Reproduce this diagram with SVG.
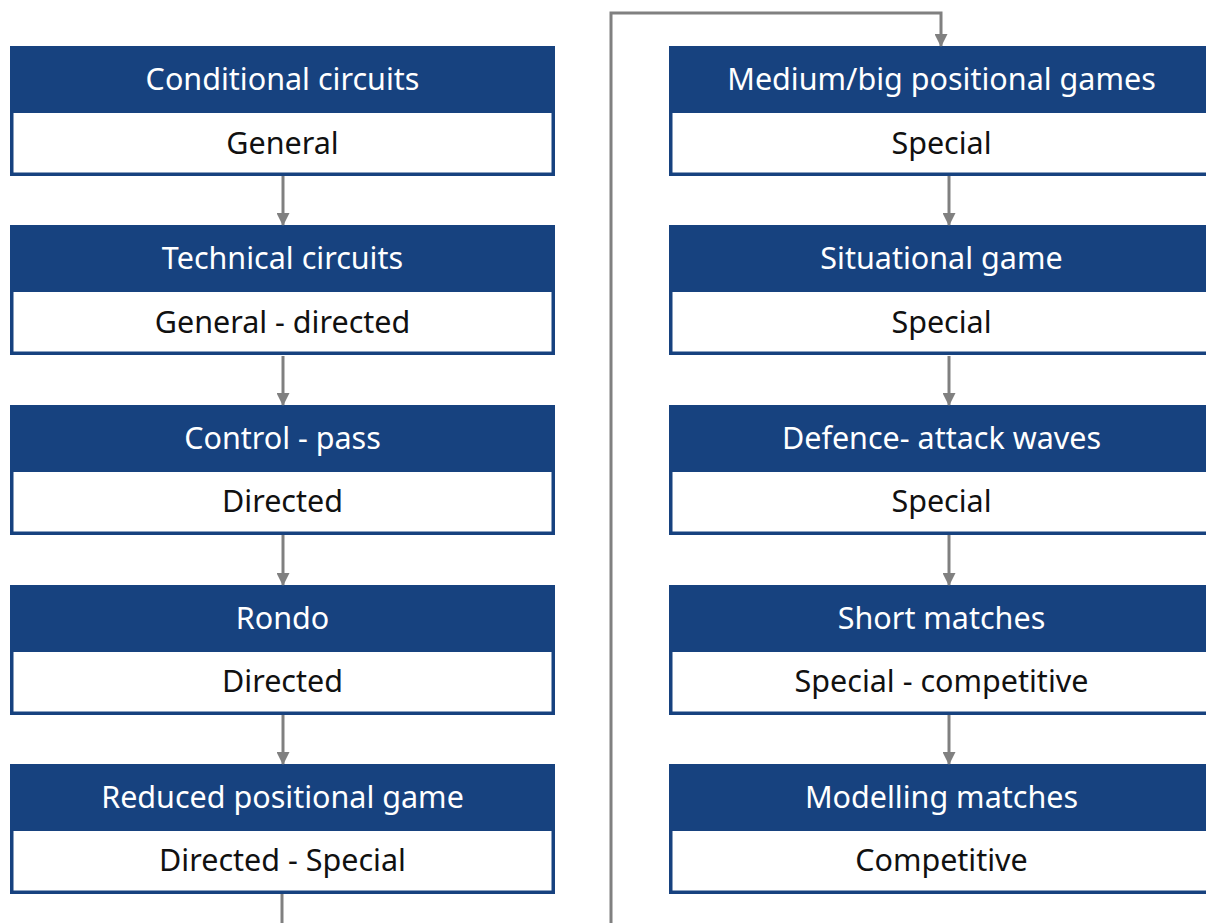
<svg xmlns="http://www.w3.org/2000/svg" width="1206" height="923" viewBox="0 0 1206 923">
  <defs>
    <marker id="head" markerWidth="13" markerHeight="13" refX="12" refY="6.5" orient="auto" markerUnits="userSpaceOnUse">
      <path d="M0,0 L13,6.5 L0,13 Z" fill="#808080"/>
    </marker>
  </defs>
  <style>
    .hdr { fill: #17427f; }
    .body { fill: #ffffff; stroke: #17427f; stroke-width: 3.5; }
    .t { font-family: "Noto Sans", "Open Sans", sans-serif; font-size: 30.5px; text-anchor: middle; }
    .tw { fill: #ffffff; }
    .tb { fill: #111111; }
    .link { fill: none; stroke: #808080; stroke-width: 3; marker-end: url(#head); }
    .plain { fill: none; stroke: #808080; stroke-width: 3; }
  </style>
  <rect width="1206" height="923" fill="#ffffff"/>

  <!-- left column -->
  <g id="n-conditional">
    <rect class="body" x="11.75" y="111" width="541.5" height="63.25"/>
    <rect class="hdr" x="10" y="46" width="545" height="67"/>
    <text class="t tw" x="282.5" y="90">Conditional circuits</text>
    <text class="t tb" x="282.5" y="154">General</text>
  </g>
  <g id="n-technical">
    <rect class="body" x="11.75" y="290" width="541.5" height="63.25"/>
    <rect class="hdr" x="10" y="225" width="545" height="67"/>
    <text class="t tw" x="282.5" y="269">Technical circuits</text>
    <text class="t tb" x="282.5" y="333">General - directed</text>
  </g>
  <g id="n-control">
    <rect class="body" x="11.75" y="470" width="541.5" height="63.25"/>
    <rect class="hdr" x="10" y="405" width="545" height="67"/>
    <text class="t tw" x="282.5" y="449">Control - pass</text>
    <text class="t tb" x="282.5" y="512">Directed</text>
  </g>
  <g id="n-rondo">
    <rect class="body" x="11.75" y="650" width="541.5" height="63.25"/>
    <rect class="hdr" x="10" y="585" width="545" height="67"/>
    <text class="t tw" x="282.5" y="629">Rondo</text>
    <text class="t tb" x="282.5" y="692">Directed</text>
  </g>
  <g id="n-reduced">
    <rect class="body" x="11.75" y="829" width="541.5" height="63.25"/>
    <rect class="hdr" x="10" y="764" width="545" height="67"/>
    <text class="t tw" x="282.5" y="808">Reduced positional game</text>
    <text class="t tb" x="282.5" y="871">Directed - Special</text>
  </g>

  <!-- right column -->
  <g id="n-medium">
    <rect class="body" x="670.75" y="111" width="541.5" height="63.25"/>
    <rect class="hdr" x="669" y="46" width="545" height="67"/>
    <text class="t tw" x="941.5" y="90">Medium/big positional games</text>
    <text class="t tb" x="941.5" y="154">Special</text>
  </g>
  <g id="n-situational">
    <rect class="body" x="670.75" y="290" width="541.5" height="63.25"/>
    <rect class="hdr" x="669" y="225" width="545" height="67"/>
    <text class="t tw" x="941.5" y="269">Situational game</text>
    <text class="t tb" x="941.5" y="333">Special</text>
  </g>
  <g id="n-defence">
    <rect class="body" x="670.75" y="470" width="541.5" height="63.25"/>
    <rect class="hdr" x="669" y="405" width="545" height="67"/>
    <text class="t tw" x="941.5" y="449">Defence- attack waves</text>
    <text class="t tb" x="941.5" y="512">Special</text>
  </g>
  <g id="n-short">
    <rect class="body" x="670.75" y="650" width="541.5" height="63.25"/>
    <rect class="hdr" x="669" y="585" width="545" height="67"/>
    <text class="t tw" x="941.5" y="629">Short matches</text>
    <text class="t tb" x="941.5" y="692">Special - competitive</text>
  </g>
  <g id="n-modelling">
    <rect class="body" x="670.75" y="829" width="541.5" height="63.25"/>
    <rect class="hdr" x="669" y="764" width="545" height="67"/>
    <text class="t tw" x="941.5" y="808">Modelling matches</text>
    <text class="t tb" x="941.5" y="871">Competitive</text>
  </g>

  <!-- connectors -->
  <g id="connectors">
    <line class="link" x1="283" y1="176" x2="283" y2="225"/>
    <line class="link" x1="283" y1="356" x2="283" y2="405"/>
    <line class="link" x1="283" y1="535" x2="283" y2="585"/>
    <line class="link" x1="283" y1="715" x2="283" y2="764"/>
    <line class="plain" x1="282" y1="894" x2="282" y2="923"/>
    <polyline class="link" points="611,923 611,13 941,13 941,46"/>
    <line class="link" x1="949" y1="176" x2="949" y2="225"/>
    <line class="link" x1="949" y1="356" x2="949" y2="405"/>
    <line class="link" x1="949" y1="535" x2="949" y2="585"/>
    <line class="link" x1="949" y1="715" x2="949" y2="764"/>
  </g>
</svg>
